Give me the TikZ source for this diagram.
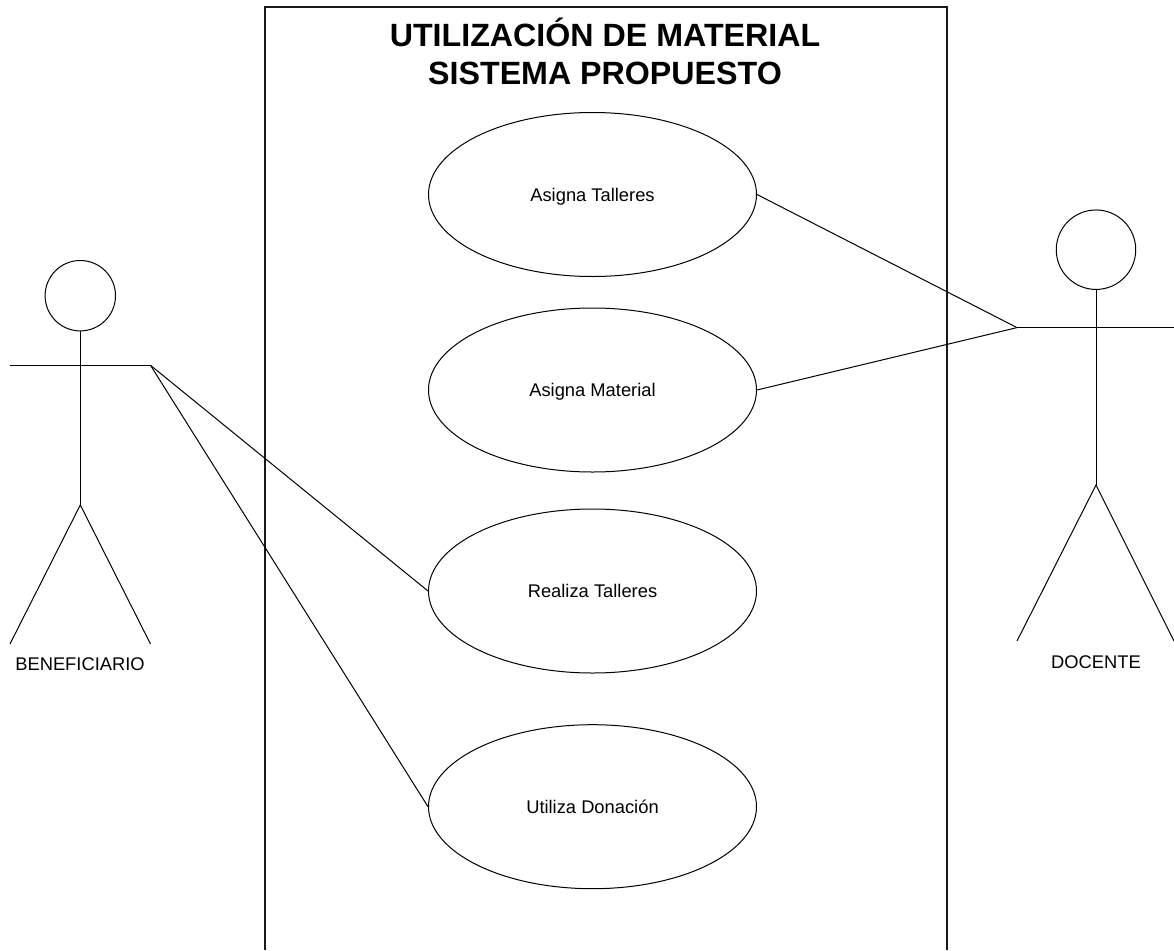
\documentclass[tikz,border=0pt]{standalone}
\usepackage{fontspec}
\setmainfont{Liberation Sans}
\usetikzlibrary{shapes.geometric}
\tikzset{
 ln/.style={draw=black,line width=0.75pt},
 frame/.style={draw=black!90,line width=1.1pt,line cap=butt},
 usecase/.style={ellipse,ln,minimum width=246pt,minimum height=123pt,inner sep=0pt,text height=9.9pt,text depth=0pt,font=\fontsize{13.75}{16}\selectfont},
 head/.style={circle,ln,inner sep=0pt},
 lab/.style={font=\fontsize{13.75}{16}\selectfont,inner sep=0pt,anchor=base},
 ttl/.style={font=\fontsize{24.15}{28.5}\selectfont\bfseries,align=center,inner sep=0pt}
}
\begin{document}
\begin{tikzpicture}[x=0.75pt,y=-0.75pt]
\useasboundingbox (0,0) rectangle (1174,950);
\draw[frame] (265,950) -- (265,7) -- (947,7) -- (947,950);
\node[ttl] (title) at (605,51.2) {UTILIZACIÓN DE MATERIAL\\SISTEMA PROPUESTO};
% actor left
\node[head,minimum size=52.8pt] (hl) at (80.3,295.7) {};
\coordinate (al) at (10,365.3);
\coordinate (ar) at (150.5,365.3);
\coordinate (hip) at (80.3,505);
\coordinate (fl) at (10,644);
\coordinate (fr) at (150.5,644);
\draw[ln] (hl.south) -- (hip);
\draw[ln] (al) -- (ar);
\draw[ln] (fl) -- (hip) -- (fr);
\node[lab] (lb) at (80,670) {BENEFICIARIO};
% actor right
\node[head,minimum size=59.6pt] (hr) at (1096,249.7) {};
\coordinate (bl) at (1017,327.6);
\coordinate (br) at (1174,327.6);
\coordinate (hipr) at (1096,485);
\coordinate (gl) at (1017,641);
\coordinate (gr) at (1174,641);
\draw[ln] (hr.south) -- (hipr);
\draw[ln] (bl) -- (br);
\draw[ln] (gl) -- (hipr) -- (gr);
\node[lab] (ld) at (1096,668.5) {DOCENTE};
% use cases
\node[usecase] (u1) at (592.5,194.5) {Asigna Talleres};
\node[usecase] (u2) at (592.5,390) {Asigna Material};
\node[usecase] (u3) at (592.5,591) {Realiza Talleres};
\node[usecase] (u4) at (592.5,806.7) {Utiliza Donación};
\draw[ln] (u1.east) -- (bl);
\draw[ln] (u2.east) -- (bl);
\draw[ln] (ar) -- (u3.west);
\draw[ln] (ar) -- (u4.west);
\end{tikzpicture}
\end{document}
